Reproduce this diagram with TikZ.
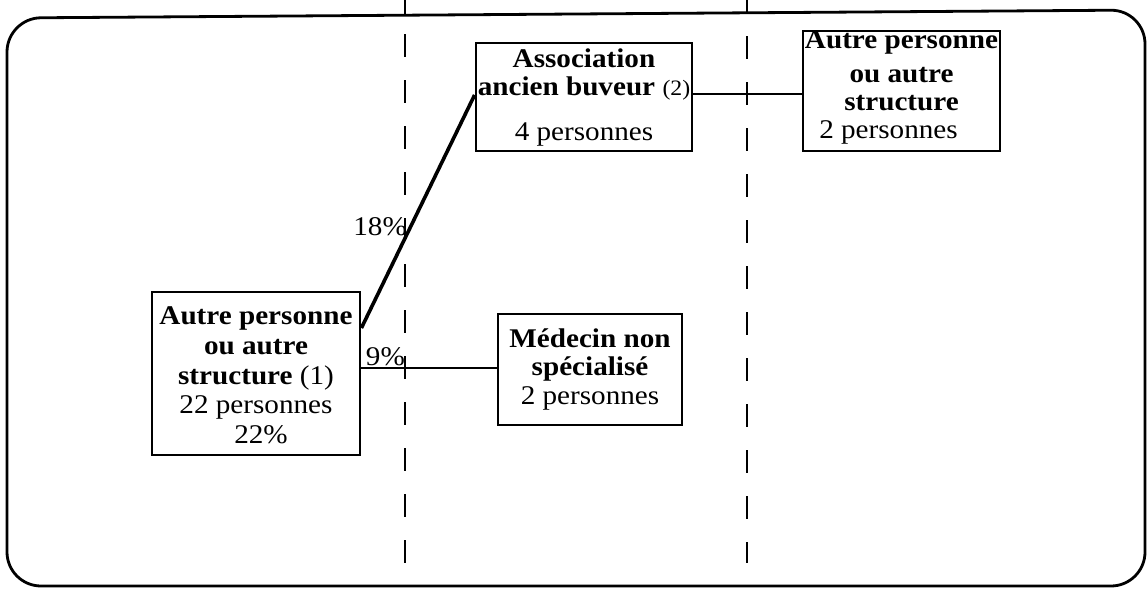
\documentclass[tikz,border=0pt]{standalone}
\usepackage{fontspec}
\setmainfont[FakeStretch=1.08]{Liberation Serif}
\usetikzlibrary{calc}
\begin{document}
\begin{tikzpicture}[x=1pt,y=-1pt,
  every node/.style={font=\fontsize{27}{29}\selectfont},
  box/.style={draw,line width=2.8pt,inner sep=0pt},
  lines/.style={align=center,inner sep=0pt,anchor=base},
  link/.style={line width=2pt},
  slant/.style={line width=3.6pt},
  rule/.style={line width=2.4pt},
  divider/.style={rule,dash pattern=on 23pt off 23pt},
  pct/.style={inner sep=0pt,anchor=base east}]
  \useasboundingbox (0,0) rectangle (1148,589);
  \fill[white] (0,0) rectangle (1148,589);

  % outer frame with rounded corners
  \draw[line width=2.8pt,rounded corners=34pt] (7,18) -- (1145,10) -- (1145,586) -- (7,586) -- cycle;

  % column dividers: solid stubs above the frame, dashed inside
  \coordinate (d1top) at (405,0);
  \coordinate (d1bot) at (405,563);
  \coordinate (d2top) at (747,0);
  \coordinate (d2bot) at (747,563);
  \draw[rule] (d1top) -- ++(0,15);
  \draw[rule] (d2top) -- ++(0,12);
  \draw[divider] (405,34) -- (d1bot);
  \draw[divider] (747,36) -- (d2bot);

  % boxes
  \node[box,minimum width=216pt,minimum height=108pt] (assoc) at (584,97) {};
  \node[box,minimum width=197pt,minimum height=120pt] (other2) at (901.5,91) {};
  \node[box,minimum width=208pt,minimum height=163pt] (other1) at (256,373.5) {};
  \node[box,minimum width=184pt,minimum height=111pt] (gp) at (590,369.5) {};

  % box texts, placed by the baseline of their last line
  \node[lines] (assoc-t) at (584,140)
    {\textbf{Association}\\[-1pt]\textbf{ancien buveur} {\fontsize{22}{24}\selectfont(2)}\\[16pt]4 personnes};
  \node[lines] (other2-t) at (901.5,138)
    {\textbf{Autre personne}\\[5pt]\textbf{ou autre}\\[-1pt]\textbf{structure}\\[-1pt]\hspace*{-26pt}2 personnes};
  \node[lines] (other1-t) at (256,443)
    {\textbf{Autre personne}\\[1pt]\textbf{ou autre}\\[1pt]\textbf{structure} (1)\\[0pt]22 personnes\\[1pt]\hspace*{10pt}22\%};
  \node[lines] (gp-t) at (590,404)
    {\textbf{Médecin non}\\[-1pt]\textbf{spécialisé}\\[0pt]2 personnes};

  % connectors
  \draw[slant] ([yshift=45.5pt]other1.east) -- ([yshift=2pt]assoc.west);
  \draw[link] ([yshift=5.5pt]other1.east) -- ([yshift=5.5pt]other1.east -| gp.west);
  \draw[link] ([yshift=3pt]assoc.east) -- ([yshift=3pt]assoc.east -| other2.west);

  % percentages
  \node[pct] (p18) at (407,235) {18\%};
  \node[pct] (p9) at (405,365) {9\%};
\end{tikzpicture}
\end{document}
